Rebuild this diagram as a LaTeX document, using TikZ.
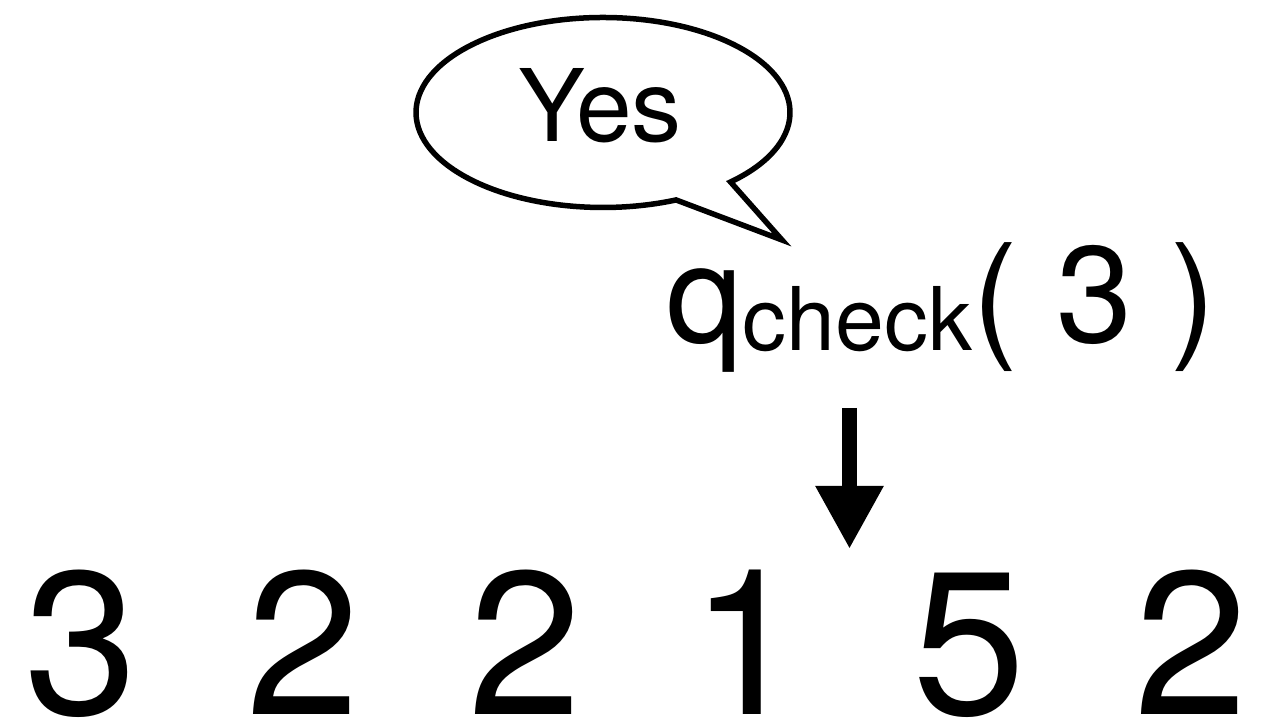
\documentclass[tikz,border=0pt]{standalone}
\usepackage{fontspec}
\setmainfont{TeX Gyre Heros}
\usetikzlibrary{arrows.meta}

\begin{document}
\begin{tikzpicture}[
    every node/.style={inner sep=0pt},
    >=Stealth,
    digit/.style={anchor=base, font=\fontsize{58}{60}\selectfont},
    bubble line/.style={line width=0.055cm, line join=miter},
]

% Canvas
\useasboundingbox (0,0) rectangle (12.61,7.25);

% === Array of values ===
\foreach \v [count=\i] in {3,2,2,1,5,2} {
    \node[digit] (v\i) at ({0.815+2.22*(\i-1)}, 0.1) {\v};
}

% === Query ===
\node[anchor=base west, font=\fontsize{39}{44}\selectfont] (query) at (6.66, 3.82)
      {q\raisebox{-2pt}{\fontsize{25}{28}\selectfont check}( 3 )};

% Pointer into the gap
\coordinate (ptop) at (8.495, 3.17);
\coordinate (pgap) at (8.495, 1.76);
\draw[-{Triangle[length=0.63cm, width=0.64cm]}, line width=0.15cm] (ptop) -- (pgap);

% === Speech bubble ===
\coordinate (bubble) at (6.03, 6.125);
\coordinate (tail) at (7.82, 4.85);
\draw[bubble line] (bubble) ++(-47:1.87 and 0.95)
      arc[start angle=-47, end angle=293, x radius=1.87, y radius=0.95] -- (tail) -- cycle;
\node[anchor=base, font=\fontsize{28.5}{32}\selectfont] (answer) at (6.00, 5.83) {Yes};

\end{tikzpicture}
\end{document}
